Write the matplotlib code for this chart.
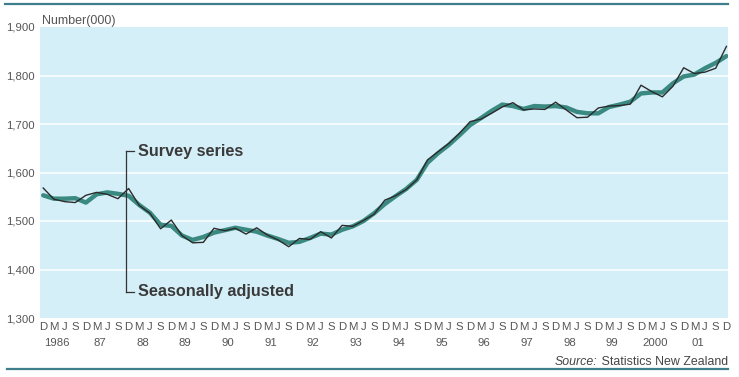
import matplotlib
matplotlib.use("Agg")
import matplotlib.pyplot as plt
from matplotlib.lines import Line2D
import matplotlib.transforms as mtransforms

plt.rcParams['font.family'] = ['Liberation Sans', 'DejaVu Sans']

# Quarters from Dec 1985 to Dec 2001
quarter_letters = ['D', 'M', 'J', 'S']
year_labels = ['1986', '87', '88', '89', '90', '91', '92', '93',
               '94', '95', '96', '97', '98', '99', '2000', '01']
y_ticks = [1300, 1400, 1500, 1600, 1700, 1800, 1900]

survey_series = [
    1568, 1545, 1540, 1538, 1553, 1559, 1555, 1546, 1567, 1532,
    1516, 1484, 1502, 1470, 1455, 1456, 1485, 1480, 1485, 1473,
    1486, 1471, 1461, 1447, 1464, 1462, 1478, 1465, 1491, 1489,
    1501, 1514, 1543, 1552, 1565, 1585, 1626, 1643, 1660, 1681,
    1705, 1710, 1722, 1735, 1744, 1729, 1731, 1730, 1745, 1729,
    1713, 1714, 1733, 1737, 1738, 1741, 1780, 1767, 1756, 1778,
    1816, 1804, 1807, 1815, 1860]

seasonally_adjusted = [
    1553, 1546, 1546, 1547, 1538, 1555, 1559, 1556, 1552, 1533,
    1517, 1492, 1490, 1470, 1461, 1467, 1476, 1481, 1486, 1482,
    1478, 1470, 1463, 1455, 1457, 1465, 1474, 1472, 1482, 1489,
    1500, 1516, 1535, 1551, 1566, 1585, 1620, 1640, 1657, 1677,
    1698, 1712, 1727, 1740, 1737, 1731, 1737, 1736, 1737, 1734,
    1725, 1722, 1722, 1735, 1740, 1746, 1763, 1765, 1765, 1784,
    1798, 1802, 1815, 1826, 1840]

n = len(survey_series)
x = list(range(n))

W, H = 739, 377
fig = plt.figure(figsize=(W / 100, H / 100), dpi=100)
fig.patch.set_facecolor('white')

left, right, top, bottom = 40, 728, 27, 318
ax = fig.add_axes([left / W, (H - bottom) / H, (right - left) / W, (bottom - top) / H])
ax.set_facecolor('#d5eff8')
for s in ax.spines.values():
    s.set_visible(False)

ax.set_ylim(1300, 1900)
ax.set_xlim(-0.3, 64.15)

for yv in y_ticks[1:-1]:
    ax.axhline(yv, color='white', lw=1.2, alpha=0.9, zorder=1)

ax.plot(x, seasonally_adjusted, color='#3b8a82', lw=3.2, solid_joinstyle='round',
        solid_capstyle='round', zorder=3)
ax.plot(x, survey_series, color='#2b2b2b', lw=1.0, zorder=4)

tick_col = '#555555'
ax.set_yticks(y_ticks)
ax.set_yticklabels([f'{v:,}' for v in y_ticks], fontsize=8.2, color=tick_col)
ax.tick_params(axis='y', length=0, pad=4)

ax.set_xticks(x)
ax.set_xticklabels([quarter_letters[i % 4] for i in x], fontsize=8.2, color=tick_col)
ax.tick_params(axis='x', length=0, pad=3)

trans = mtransforms.blended_transform_factory(ax.transData, fig.transFigure)
for k, lab in enumerate(year_labels):
    ax.text(4 * k + 1.3, 1 - 343 / H, lab, transform=trans, ha='center', va='center',
            fontsize=8.2, color=tick_col)

# Number(000) label
fig.text(42 / W, 1 - 21 / H, 'Number(000)', fontsize=9, color=tick_col,
         ha='left', va='center')

# Bracket annotation
bx = 7.8
y_top_b, y_bot_b = 1644, 1354
ax.plot([bx, bx], [y_top_b, y_bot_b], color='#333333', lw=0.9, zorder=5)
ax.plot([bx, bx + 0.7], [y_top_b, y_top_b], color='#333333', lw=0.9, zorder=5)
ax.plot([bx, bx + 0.7], [y_bot_b, y_bot_b], color='#333333', lw=0.9, zorder=5)
ax.text(bx + 1.1, y_top_b, 'Survey series', fontsize=11.7, fontweight='bold',
        color='#3a3a3a', ha='left', va='center', zorder=6)
ax.text(bx + 1.1, y_bot_b, 'Seasonally adjusted', fontsize=11.7, fontweight='bold',
        color='#3a3a3a', ha='left', va='center', zorder=6)

# Rules
rule_color = '#3f7f8c'
fig.add_artist(Line2D([5 / W, 728 / W], [1 - 3.5 / H, 1 - 3.5 / H], color=rule_color,
                      lw=1.6, transform=fig.transFigure))
fig.add_artist(Line2D([7 / W, 728 / W], [1 - 369 / H, 1 - 369 / H], color=rule_color,
                      lw=1.6, transform=fig.transFigure))

# Source
src = fig.text(728 / W, 1 - 362 / H, ' Statistics New Zealand', fontsize=8.9,
               color='#444444', ha='right', va='center')
fig.canvas.draw()
bb = src.get_window_extent()
fig.text(bb.x0 / W, 1 - 362 / H, 'Source:', fontsize=8.9, color='#444444',
         style='italic', ha='right', va='center')

fig.savefig('out.png', dpi=100, facecolor='white')
